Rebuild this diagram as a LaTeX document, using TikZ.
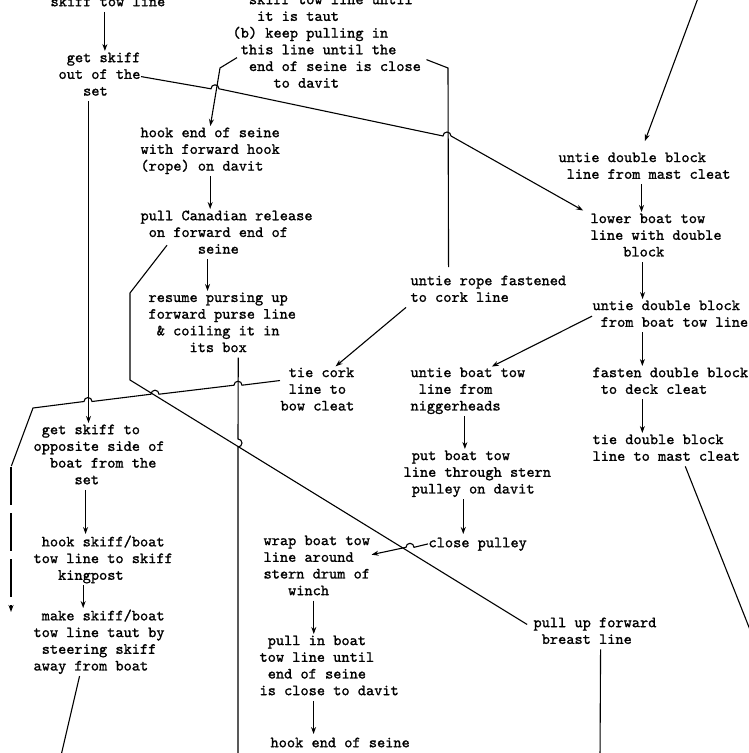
\documentclass[tikz,border=0pt]{standalone}
\usepackage{fontspec}
\usetikzlibrary{arrows.meta}
\newfontfamily\twfont{lmmono10-regular.otf}[FakeBold=1.2]
\newcommand\tw{\twfont\fontsize{15.6}{16.7}\selectfont}
\newcommand\tsp[1]{\hspace*{#1\dimexpr 0.525em\relax}}
\tikzset{
  txt/.style={
    font=\tw,
    align=left,
    anchor=north west,
    inner sep=0pt,
    execute at begin node=\strut,
    execute at end node=\strut
    },
  dashline/.style={dash pattern=on 38pt off 8pt},
}

\begin{document}
\begin{tikzpicture}[
            x = 1pt, y = 1pt,
            > = {Stealth[length=7pt,width=5pt]}, % arrow head style
            shorten > = 1pt,
            line width = 1.1pt
        ]

  \useasboundingbox (0,0) rectangle (748,-753);

  % steps
  \node[txt] (towln) at (50,6) {skiff tow line};
  \node[txt] (keep) at (232,6) {\tsp{2}skiff tow line until\\\tsp{3}it is taut\\(b) keep pulling in\\\tsp{1}this line until the\\\tsp{2}end of seine is close\\\tsp{5}to davit};
  \node[txt] (getout) at (58,-52) {\tsp{1}get skiff\\out of the\\\tsp{3}set};
  \node[txt] (hookfwd) at (140,-127) {hook end of seine\\with forward hook\\(rope) on davit};
  \node[txt] (release) at (140,-210) {pull Canadian release\\\tsp{1}on forward end of\\\tsp{7}seine};
  \node[txt] (purse) at (148,-292) {resume pursing up\\forward purse line\\\tsp{1}\& coiling it in\\\tsp{5}its box};
  \node[txt] (untierope) at (410,-275) {untie rope fastened\\to cork line};
  \node[txt] (tiecork) at (280,-367) {\tsp{1}tie cork\\\tsp{1}line to\\bow cleat};
  \node[txt] (opposite) at (33,-424) {\tsp{1}get skiff to\\opposite side of\\\tsp{2}boat from the\\\tsp{5}set};
  \node[txt] (kingpost) at (33,-535) {\tsp{1}hook skiff/boat\\tow line to skiff\\\tsp{3}kingpost};
  \node[txt] (steer) at (33,-609) {\tsp{1}make skiff/boat\\tow line taut by\\\tsp{1}steering skiff\\away from boat};
  \node[txt] (wrap) at (263,-535) {wrap boat tow\\line around\\stern drum of\\\tsp{3}winch};
  \node[txt] (pullin) at (259,-635) {\tsp{1}pull in boat\\tow line until\\\tsp{1}end of seine\\is close to davit};
  \node[txt] (hookend) at (270,-735) {hook end of seine};
  \node[txt] (close) at (428,-535) {close pulley};
  \node[txt] (stern) at (403,-450) {\tsp{1}put boat tow\\line through stern\\\tsp{1}pulley on davit};
  \node[txt] (untieboat) at (410,-367) {untie boat tow\\\tsp{1}line from\\niggerheads};
  \node[txt] (untiemast) at (558,-152) {untie double block\\\tsp{1}line from mast cleat};
  \node[txt] (lower) at (590,-213) {lower boat tow\\line with double\\\tsp{4}block};
  \node[txt] (untieblock) at (592,-300) {untie double block\\\tsp{1}from boat tow line};
  \node[txt] (fasten) at (592,-367) {fasten double block\\\tsp{1}to deck cleat};
  \node[txt] (tiemast) at (592,-434) {tie double block\\line to mast cleat};
  \node[txt] (breast) at (533,-617) {pull up forward\\\tsp{1}breast line};

  % loose ends
  \coordinate (mastin) at (701,10);
  \coordinate (purseout) at (238,-760);
  \coordinate (skiffout) at (60,-760);
  \coordinate (deckout) at (762,-660);
  \coordinate (breastout) at (600,-760);
  \coordinate (leftout) at (11,-613);

  % left column
  \draw[->] ([xshift=-3pt]towln.south) -- ([xshift=-3pt]towln.south |- getout.north);
  \draw[->] ([xshift=-11pt]getout.south) -- ([xshift=-11pt]getout.south |- opposite.north);
  \draw[->] ([xshift=-13.5pt]opposite.south) -- ([xshift=-13.5pt]opposite.south |- kingpost.north);
  \draw[->] ([xshift=-20pt]kingpost.south) -- ([xshift=-20pt]kingpost.south |- steer.north);
  \draw ([xshift=-19.5pt]steer.south) -- (skiffout);

  % from (b)
  \draw[->] ([shift={(5pt,-14pt)}]keep.west) -- (220,-68) -- (hookfwd.north);
  \draw ([shift={(5pt,-16pt)}]keep.east) -- (448,-68) -- ([xshift=-39.8pt,yshift=7pt]untierope.north);
  \draw[->] (getout.east) -- (211,-88.8) arc[start angle=180, end angle=0, radius=4]
    -- (443,-136) arc[start angle=180, end angle=0, radius=4]
    -- ([xshift=-6pt,yshift=2pt]lower.north west);

  % middle
  \draw[->] (hookfwd.south) -- (hookfwd.south |- release.north);
  \draw[->] ([xshift=-19pt]release.south) -- ([xshift=-19pt]release.south |- purse.north);
  \draw ([shift={(27pt,14pt)}]release.south west) -- (130,-293) -- (130,-380)
    -- ([shift={(-5pt,-8pt)}]breast.north west);
  \draw ([xshift=16pt]purse.south) -- (238,-439) arc[start angle=90, end angle=-90, radius=4] -- (purseout);
  \draw[->] ([xshift=-4pt]untierope.south west) -- ([xshift=-20pt]tiecork.north east);
  \draw ([yshift=11pt]tiecork.west) -- (242,-385.2) arc[start angle=0, end angle=180, radius=4]
    -- (159,-394.2) arc[start angle=0, end angle=180, radius=4]
    -- (92,-401.5) arc[start angle=0, end angle=180, radius=4]
    -- (33,-408) -- (11,-467) coordinate (leftbend);
  \draw[->, dashline] (leftbend) -- (leftout);

  % right column
  \draw[->] (mastin) -- ([yshift=10pt]untiemast.north);
  \draw[->] ([xshift=-3pt]untiemast.south) -- ([xshift=-3pt]untiemast.south |- lower.north);
  \draw[->] ([xshift=-13.5pt]lower.south) -- ([xshift=-13.5pt]lower.south |- untieblock.north);
  \draw[->] ([xshift=-28pt]untieblock.south) -- ([xshift=-28pt]untieblock.south |- fasten.north);
  \draw[->] ([xshift=-28pt]fasten.south) -- ([xshift=-28pt]fasten.south |- tiemast.north);
  \draw ([xshift=19pt]tiemast.south) -- (deckout);
  \draw[->] (untieblock.west) -- ([xshift=23pt]untieboat.north);
  \draw[->] ([xshift=-3pt]untieboat.south) -- ([xshift=-3pt]untieboat.south |- stern.north);
  \draw[->] ([xshift=-14pt]stern.south) -- ([xshift=-14pt]stern.south |- close.north);
  \draw[->] (close.west) -- (414,-547.3) arc[start angle=0, end angle=180, radius=4] -- ([yshift=13pt]wrap.east);
  \draw[->] ([xshift=-3pt]wrap.south) -- ([xshift=-3pt]wrap.south |- pullin.north);
  \draw[->] ([xshift=-15.6pt]pullin.south) -- ([xshift=-15.6pt]pullin.south |- hookend.north);
  \draw ([xshift=5.6pt]breast.south) -- (breastout);

\end{tikzpicture}
\end{document}
